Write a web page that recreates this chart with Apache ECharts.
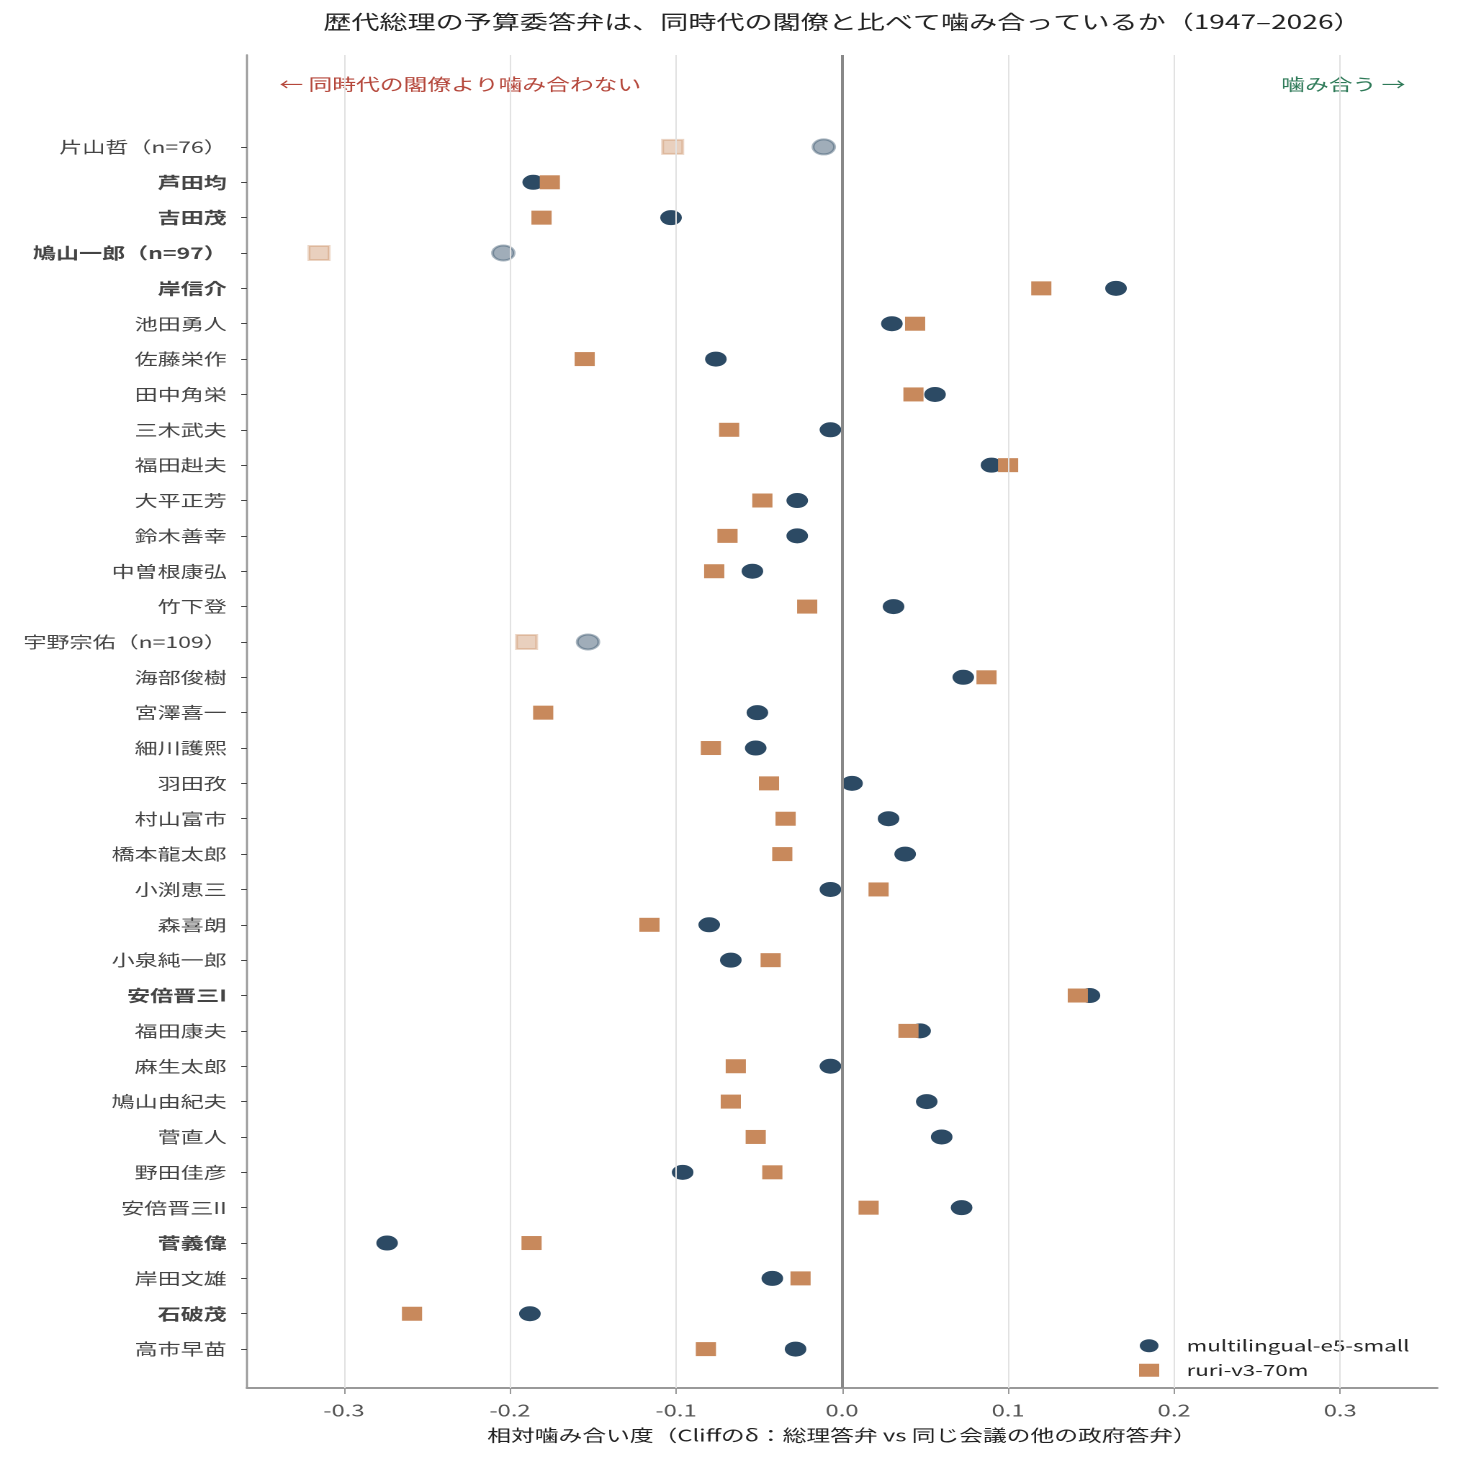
<!DOCTYPE html>
<html>
<head>
<meta charset="utf-8">
<script src="https://cdn.jsdelivr.net/npm/echarts@6/dist/echarts.min.js"></script>
<style>
  html, body { margin: 0; padding: 0; background: #fff; }
  #wrap { width: 1457px; height: 1457px; overflow: hidden; }
  /* the reference is a horizontally stretched figure, so draw narrow and stretch */
  #main { width: 1012px; height: 1457px; transform: scaleX(1.44); transform-origin: 0 0; }
</style>
</head>
<body>
<div id="wrap"><div id="main"></div></div>
<script>
// 総理（上から時代順）
var names = ['片山哲', '芦田均', '吉田茂', '鳩山一郎', '岸信介', '池田勇人', '佐藤栄作', '田中角栄',
    '三木武夫', '福田赳夫', '大平正芳', '鈴木善幸', '中曽根康弘', '竹下登', '宇野宗佑', '海部俊樹',
    '宮澤喜一', '細川護熙', '羽田孜', '村山富市', '橋本龍太郎', '小渕恵三', '森喜朗', '小泉純一郎',
    '安倍晋三I', '福田康夫', '麻生太郎', '鳩山由紀夫', '菅直人', '野田佳彦', '安倍晋三II', '菅義偉',
    '岸田文雄', '石破茂', '高市早苗'];

// Cliffのδ  multilingual-e5-small
var e5 = [-0.011, -0.186, -0.103, -0.204, 0.165, 0.030, -0.076, 0.056,
    -0.007, 0.090, -0.027, -0.027, -0.054, 0.031, -0.153, 0.073,
    -0.051, -0.052, 0.006, 0.028, 0.038, -0.007, -0.080, -0.067,
    0.149, 0.047, -0.007, 0.051, 0.060, -0.096, 0.072, -0.274,
    -0.042, -0.188, -0.028];

// Cliffのδ  ruri-v3-70m
var ruri = [-0.102, -0.176, -0.181, -0.315, 0.120, 0.044, -0.155, 0.043,
    -0.068, 0.100, -0.048, -0.069, -0.077, -0.021, -0.190, 0.087,
    -0.180, -0.079, -0.044, -0.034, -0.036, 0.022, -0.116, -0.043,
    0.142, 0.040, -0.064, -0.067, -0.052, -0.042, 0.016, -0.187,
    -0.025, -0.259, -0.082];

// 答弁数が少ない総理（薄く表示）
var smallSample = { '片山哲': 76, '鳩山一郎': 97, '宇野宗佑': 109 };
// 太字の総理
var boldNames = ['芦田均', '吉田茂', '鳩山一郎', '岸信介', '安倍晋三I', '菅義偉', '石破茂'];

var xTicks = [-0.3, -0.2, -0.1, 0.0, 0.1, 0.2, 0.3];

var NAVY = '#2c4a64';
var ORANGE = '#c8895c';
var FONT = '"Noto Sans CJK JP", "Noto Sans", sans-serif';

function label(i) {
    var n = smallSample[names[i]];
    return n ? names[i] + '（n=' + n + '）' : names[i];
}

function points(values, faded) {
    return values.map(function (v, i) {
        var item = { value: [v, i] };
        if (smallSample[names[i]]) item.itemStyle = faded;
        return item;
    });
}

var rows = names.map(function (d, i) { return i; });

var chart = echarts.init(document.getElementById('main'), null, { devicePixelRatio: 2 });
chart.setOption({
    animation: false,
    backgroundColor: '#fff',
    textStyle: { fontFamily: FONT },
    title: {
        text: '歴代総理の予算委答弁は、同時代の閣僚と比べて噛み合っているか（1947–2026）',
        left: 580,
        textAlign: 'center',
        top: 7,
        textStyle: { fontSize: 19.5, fontWeight: 'normal', color: '#222', fontFamily: FONT }
    },
    grid: { left: 171.5, right: 14, top: 55, bottom: 69 },
    legend: {
        data: [
            { name: 'multilingual-e5-small', icon: 'circle' },
            { name: 'ruri-v3-70m', icon: 'rect' }
        ],
        orient: 'vertical',
        left: 786,
        top: 1333,
        itemWidth: 14,
        itemHeight: 13,
        itemGap: 9,
        textStyle: { fontSize: 15.5, color: '#222', fontFamily: FONT, padding: [0, 0, 0, 14] }
    },
    graphic: [
        {
            type: 'text', left: 194, top: 76,
            style: { text: '← 同時代の閣僚より噛み合わない', fill: '#b5473b', fontSize: 16.5, fontFamily: FONT }
        },
        {
            type: 'text', right: 36, top: 76,
            style: { text: '噛み合う →', fill: '#2e7a58', fontSize: 16.5, fontFamily: FONT }
        }
    ],
    xAxis: {
        type: 'value',
        min: -0.3584,
        max: 0.3584,
        name: '相対噛み合い度（Cliffのδ：総理答弁 vs 同じ会議の他の政府答弁）',
        nameLocation: 'middle',
        nameGap: 39,
        nameTextStyle: { fontSize: 16.5, color: '#222', fontFamily: FONT },
        axisLine: { onZero: false, lineStyle: { color: '#999', width: 2 } },
        axisTick: { show: true, length: 6, customValues: xTicks, lineStyle: { color: '#999', width: 1 } },
        axisLabel: {
            customValues: xTicks,
            fontSize: 16.5, color: '#555', margin: 14,
            formatter: function (v) { return v.toFixed(1); }
        },
        splitLine: { show: false }
    },
    yAxis: {
        type: 'value',
        inverse: true,
        min: -2.6,
        max: 35.1,
        axisLine: { show: true, onZero: false, lineStyle: { color: '#999', width: 1.4 } },
        axisTick: { show: true, length: 4, customValues: rows, lineStyle: { color: '#444', width: 1 } },
        axisLabel: {
            customValues: rows,
            margin: 14,
            formatter: function (v) {
                var i = Math.round(v);
                return (boldNames.indexOf(names[i]) >= 0 ? '{b|' : '{n|') + label(i) + '}';
            },
            rich: {
                n: { fontSize: 16, color: '#444', fontFamily: FONT },
                b: { fontSize: 16, color: '#444', fontWeight: 'bold', fontFamily: FONT }
            }
        },
        splitLine: { show: false }
    },
    series: [
        {
            name: 'guides',
            type: 'scatter',
            data: [],
            z: 1,
            silent: true,
            markLine: {
                silent: true,
                symbol: 'none',
                label: { show: false },
                data: xTicks.map(function (t) {
                    return t === 0
                        ? { xAxis: t, lineStyle: { color: '#888', width: 2, type: 'solid' } }
                        : { xAxis: t, lineStyle: { color: '#e2e2e2', width: 1, type: 'solid' } };
                })
            }
        },
        {
            name: 'multilingual-e5-small',
            type: 'scatter',
            symbol: 'circle',
            symbolSize: 15,
            z: 3,
            itemStyle: { color: NAVY, opacity: 1 },
            data: points(e5, {
                color: 'rgba(44,74,100,0.45)', borderColor: 'rgba(44,74,100,0.4)', borderWidth: 2
            })
        },
        {
            name: 'ruri-v3-70m',
            type: 'scatter',
            symbol: 'rect',
            symbolSize: 14,
            z: 4,
            itemStyle: { color: ORANGE, opacity: 1 },
            data: points(ruri, {
                color: 'rgba(200,137,92,0.4)', borderColor: 'rgba(200,137,92,0.35)', borderWidth: 2
            })
        }
    ]
});
</script>
</body>
</html>
